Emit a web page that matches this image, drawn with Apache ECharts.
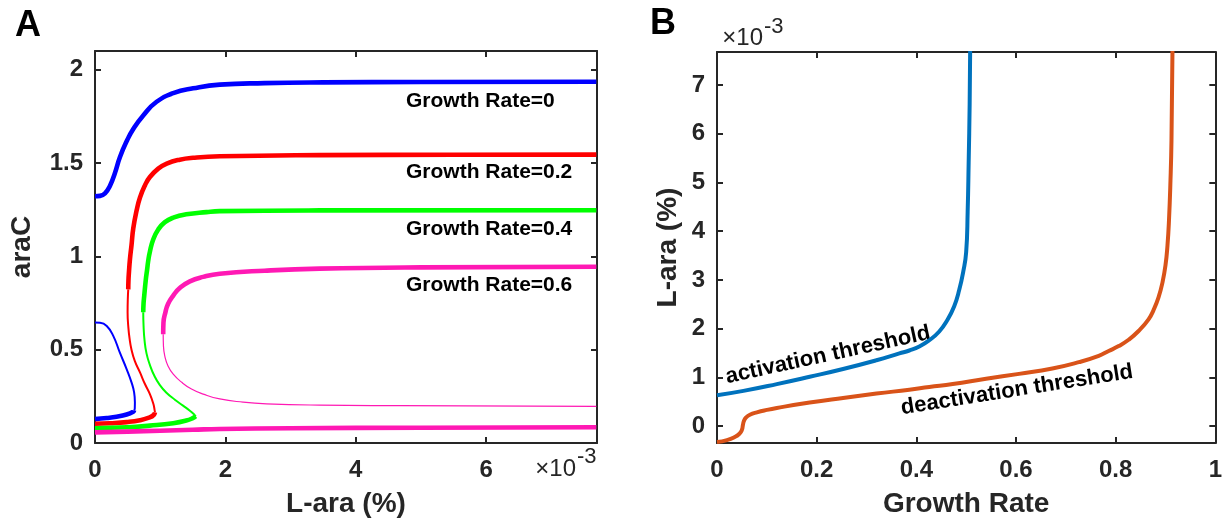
<!DOCTYPE html>
<html><head><meta charset="utf-8">
<script src="https://cdn.jsdelivr.net/npm/echarts@6/dist/echarts.min.js"></script>
<style>html,body{margin:0;padding:0;background:#fff}#c{width:1225px;height:524px}</style>
</head><body><div id="c"></div>
<script>
// ---------- Panel A (x in units of 1e-3 %) ----------
const xTicksA = [0, 2, 4, 6];
const yTicksA = [0, 0.5, 1, 1.5, 2];
const gr0Upper = [[0,1.322],[0.077,1.324],[0.153,1.337],[0.23,1.378],[0.306,1.447],[0.383,1.532],[0.485,1.616],[0.587,1.682],[0.74,1.755],[0.945,1.828],[1.2,1.874],[1.505,1.90],[1.914,1.92],[2.6,1.928],[3.5,1.932],[5,1.934],[7.69,1.935]];
const gr0Unstable = [[0,0.645],[0.077,0.644],[0.18,0.627],[0.28,0.574],[0.38,0.485],[0.485,0.396],[0.56,0.325],[0.60,0.271],[0.612,0.218],[0.61,0.185],[0.6,0.175]];
const gr0Lower = [[0.6,0.175],[0.587,0.168],[0.485,0.153],[0.33,0.141],[0.18,0.134],[0,0.128]];
const gr2Upper = [[0.51,0.823],[0.513,0.87],[0.52,0.912],[0.536,0.984],[0.56,1.06],[0.587,1.15],[0.638,1.245],[0.69,1.315],[0.766,1.38],[0.842,1.425],[0.97,1.47],[1.10,1.497],[1.30,1.518],[1.505,1.528],[1.914,1.536],[3.445,1.542],[5.5,1.544],[7.69,1.545]];
const gr2Unstable = [[0.51,0.823],[0.503,0.77],[0.5,0.699],[0.51,0.627],[0.53,0.56],[0.56,0.5],[0.61,0.44],[0.69,0.378],[0.766,0.316],[0.842,0.262],[0.895,0.21],[0.915,0.175],[0.92,0.164]];
const gr2Lower = [[0.92,0.164],[0.9,0.15],[0.84,0.137],[0.69,0.122],[0.485,0.112],[0.23,0.106],[0,0.103]];
const gr4Upper = [[0.74,0.70],[0.745,0.75],[0.755,0.788],[0.78,0.877],[0.80,0.93],[0.816,0.975],[0.842,1.025],[0.893,1.09],[0.97,1.144],[1.072,1.183],[1.2,1.207],[1.40,1.225],[1.71,1.237],[1.914,1.242],[3.445,1.246],[7.69,1.247]];
const gr4Unstable = [[0.74,0.70],[0.745,0.627],[0.76,0.55],[0.79,0.48],[0.84,0.42],[0.91,0.36],[0.995,0.31],[1.10,0.268],[1.225,0.232],[1.35,0.20],[1.455,0.173],[1.52,0.153],[1.545,0.143]];
const gr4Lower = [[1.545,0.143],[1.50,0.133],[1.40,0.12],[1.2,0.106],[0.84,0.093],[0.485,0.084],[0,0.079]];
const gr6Upper = [[1.046,0.583],[1.05,0.645],[1.08,0.70],[1.12,0.745],[1.2,0.79],[1.3,0.83],[1.455,0.866],[1.66,0.89],[1.914,0.907],[2.6,0.923],[3.445,0.934],[5,0.941],[7.69,0.944]];
const gr6Unstable = [[1.046,0.583],[1.05,0.52],[1.07,0.467],[1.12,0.413],[1.2,0.369],[1.33,0.325],[1.48,0.289],[1.66,0.262],[1.914,0.236],[2.27,0.219],[2.63,0.21],[3.445,0.203],[4.67,0.20],[7.69,0.196]];
const gr6Lower = [[0,0.057],[0.5,0.061],[1.0,0.066],[1.5,0.071],[1.914,0.075],[3,0.079],[5,0.082],[7.69,0.084]];
const labelsA = ['Growth Rate=0', 'Growth Rate=0.2', 'Growth Rate=0.4', 'Growth Rate=0.6'];

// ---------- Panel B (y in units of 1e-3 %) ----------
const xTicksB = [0, 0.2, 0.4, 0.6, 0.8, 1];
const yTicksB = [0, 1, 2, 3, 4, 5, 6, 7];
const activation = [[0,0.63],[0.053,0.72],[0.12,0.86],[0.186,1.01],[0.253,1.17],[0.32,1.35],[0.366,1.49],[0.386,1.55],[0.406,1.63],[0.426,1.76],[0.446,1.94],[0.462,2.17],[0.476,2.46],[0.486,2.79],[0.494,3.16],[0.50,3.57],[0.503,4.4],[0.505,5.4],[0.507,6.6],[0.508,7.7]];
const deactivation = [[0,-0.33],[0.02,-0.29],[0.035,-0.23],[0.045,-0.16],[0.05,-0.08],[0.052,0.02],[0.054,0.1],[0.058,0.17],[0.066,0.23],[0.08,0.28],[0.1,0.33],[0.12,0.37],[0.186,0.48],[0.253,0.575],[0.32,0.665],[0.386,0.745],[0.426,0.8],[0.473,0.86],[0.54,0.97],[0.606,1.07],[0.673,1.18],[0.726,1.31],[0.766,1.44],[0.786,1.54],[0.806,1.64],[0.826,1.77],[0.846,1.95],[0.866,2.19],[0.876,2.38],[0.886,2.64],[0.894,2.95],[0.90,3.30],[0.904,3.71],[0.907,4.22],[0.910,5.04],[0.912,5.86],[0.914,7.7]];
const labelsB = ['activation threshold', 'deactivation threshold'];

const FONT = '"Liberation Sans", Arial, Helvetica, sans-serif';
const AX = '#262626';
const axLine = {show:true, onZero:false, lineStyle:{color:AX, width:2}};
const axTick = {show:true, inside:true, length:6, lineStyle:{color:AX, width:2}};
const near = (v, list) => list.some(t => Math.abs(v - t) < 1e-6);
const lblStyle = {color:AX, fontWeight:'bold', fontSize:24, fontFamily:FONT};
const nameStyle = {color:AX, fontWeight:'bold', fontSize:28, fontFamily:FONT};

function mkX(grid, min, max, interval, ticks, pos, name) {
  const a = {gridIndex:grid, type:'value', min, max, interval, position:pos,
    axisLine:axLine, axisTick:axTick, splitLine:{show:false},
    axisLabel: pos === 'bottom' ? Object.assign({margin:15, formatter: v => near(v, ticks) ? String(+v.toFixed(2)) : ''}, lblStyle) : {show:false}};
  if (name) Object.assign(a, {name, nameLocation:'middle', nameGap:47, nameTextStyle:nameStyle});
  return a;
}
function mkY(grid, min, max, interval, ticks, pos, name, gap) {
  const a = {gridIndex:grid, type:'value', min, max, position:pos,
    axisLine:axLine, axisTick:axTick, splitLine:{show:false},
    axisLabel: pos === 'left' ? Object.assign({margin:12, formatter: v => near(v, ticks) ? String(+v.toFixed(2)) : ''}, lblStyle) : {show:false}};
  if (interval != null) a.interval = interval; else a.splitNumber = 8;
  if (name) Object.assign(a, {name, nameLocation:'middle', nameGap:gap, nameTextStyle:nameStyle});
  return a;
}

function line(data, color, width, xi, yi) {
  return {type:'line', data, xAxisIndex:xi, yAxisIndex:yi, showSymbol:false, symbol:'none', smooth:0.5,
    lineStyle:{color, width, cap:'butt', join:'round'}, silent:true, clip:true};
}
const BLUE='#0000FF', RED='#FF0000', GREEN='#00FF00', MAG='#FF19B4';
const THICK=4.6;

const option = {
  animation:false,
  backgroundColor:'#ffffff',
  grid:[
    {left:95, top:51, width:502, height:392, containLabel:false},
    {left:717, top:52, width:500, height:391, containLabel:false}
  ],
  xAxis:[
    mkX(0, 0, 7.7, 2, xTicksA, 'bottom', 'L-ara (%)'),
    mkX(0, 0, 7.7, 2, xTicksA, 'top'),
    mkX(1, 0, 1, 0.2, xTicksB, 'bottom', 'Growth Rate'),
    mkX(1, 0, 1, 0.2, xTicksB, 'top')
  ],
  yAxis:[
    mkY(0, 0, 2.1, 0.5, yTicksA, 'left', 'araC', 59),
    mkY(0, 0, 2.1, 0.5, yTicksA, 'right'),
    mkY(1, -0.35, 7.68, null, yTicksB, 'left', 'L-ara (%)', 35),
    mkY(1, -0.35, 7.68, null, yTicksB, 'right')
  ],
  series:[
    line(gr0Upper, BLUE, THICK, 0, 0), line(gr0Unstable, BLUE, 2, 0, 0), line(gr0Lower, BLUE, THICK, 0, 0),
    line(gr2Upper, RED, THICK, 0, 0), line(gr2Unstable, RED, 2, 0, 0), line(gr2Lower, RED, THICK, 0, 0),
    line(gr4Upper, GREEN, THICK, 0, 0), line(gr4Unstable, GREEN, 2, 0, 0), line(gr4Lower, GREEN, THICK, 0, 0),
    line(gr6Upper, MAG, THICK, 0, 0), line(gr6Unstable, MAG, 1.2, 0, 0), line(gr6Lower, MAG, THICK, 0, 0),
    line(activation, '#0072BD', 4, 2, 2), line(deactivation, '#D95319', 4, 2, 2)
  ],
  graphic:[
    {type:'text', x:15, y:26, style:{text:'A', font:'bold 36px '+FONT, fill:'#000', align:'left', verticalAlign:'middle'}},
    {type:'text', x:650, y:24, style:{text:'B', font:'bold 36px '+FONT, fill:'#000', align:'left', verticalAlign:'middle'}},
    {type:'text', x:406, y:101, style:{text:labelsA[0], font:'bold 21px '+FONT, fill:'#000', align:'left', verticalAlign:'middle'}},
    {type:'text', x:406, y:172, style:{text:labelsA[1], font:'bold 21px '+FONT, fill:'#000', align:'left', verticalAlign:'middle'}},
    {type:'text', x:406, y:229, style:{text:labelsA[2], font:'bold 21px '+FONT, fill:'#000', align:'left', verticalAlign:'middle'}},
    {type:'text', x:406, y:285, style:{text:labelsA[3], font:'bold 21px '+FONT, fill:'#000', align:'left', verticalAlign:'middle'}},
    {type:'text', x:576, y:469, style:{text:'×10', font:'24px '+FONT, fill:AX, align:'right', verticalAlign:'middle'}},
    {type:'text', x:577, y:457, style:{text:'-3', font:'22px '+FONT, fill:AX, align:'left', verticalAlign:'middle'}},
    {type:'text', x:763, y:38, style:{text:'×10', font:'24px '+FONT, fill:AX, align:'right', verticalAlign:'middle'}},
    {type:'text', x:764, y:27, style:{text:'-3', font:'22px '+FONT, fill:AX, align:'left', verticalAlign:'middle'}},
    {type:'text', x:828, y:355, rotation:12.3*Math.PI/180, style:{text:labelsB[0], font:'bold 22px '+FONT, fill:'#000', align:'center', verticalAlign:'middle'}},
    {type:'text', x:1017, y:390, rotation:9*Math.PI/180, style:{text:labelsB[1], font:'bold 22px '+FONT, fill:'#000', align:'center', verticalAlign:'middle'}}
  ]
};
const chart = echarts.init(document.getElementById('c'), null, {renderer:'canvas', width:1225, height:524});
chart.setOption(option);
</script></body></html>
